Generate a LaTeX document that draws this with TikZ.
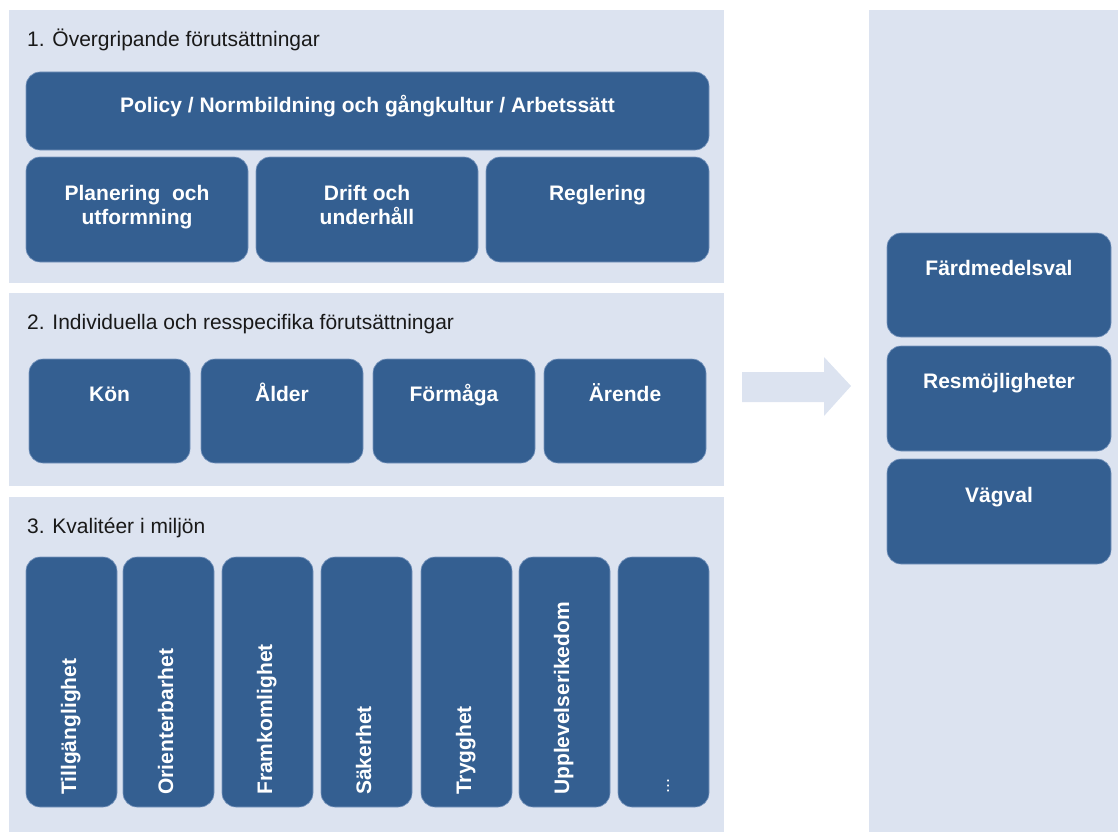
\documentclass[tikz,border=0pt]{standalone}
\usepackage{fontspec}
\setmainfont{Liberation Sans}
\definecolor{panelbg}{RGB}{220,227,240}
\definecolor{boxbg}{RGB}{52,95,145}
\definecolor{boxedge}{RGB}{120,150,190}
\begin{document}
\begin{tikzpicture}[x=1pt,y=-1pt,
  panel/.style={fill=panelbg,draw=none},
  box/.style={fill=boxbg,draw=boxedge,line width=0.6pt,rounded corners=14pt},
  boxtext/.style={text=white,font=\fontsize{21}{24}\selectfont\bfseries,align=center,inner sep=0pt,anchor=base},
  title/.style={text=black!90,font=\fontsize{21}{24}\selectfont,anchor=base west,inner sep=0pt},
  vtext/.style={text=white,font=\fontsize{21}{24}\selectfont\bfseries,rotate=90,anchor=base west,inner sep=0pt}]
\useasboundingbox (0,0) rectangle (1118,832);
% panels
\fill[panel] (9,10) rectangle (724,283);
\fill[panel] (9,293) rectangle (724,486);
\fill[panel] (9,497) rectangle (724,832);
\fill[panel] (869,10) rectangle (1118,832);
% arrow
\fill[panelbg] (742,372) -- (824,372) -- (824,357) -- (851,386) -- (824,416) -- (824,402) -- (742,402) -- cycle;
% panel titles
\node[title] (t1) at (27,47) {1. Övergripande förutsättningar};
\node[title] (t2) at (27,329) {2. Individuella och resspecifika förutsättningar};
\node[title] (t3) at (27,533) {3. Kvalitéer i miljön};
% panel 1
\draw[box] (26,72) rectangle (709,150);
\node[boxtext] (policy) at (367.5,113) {Policy / Normbildning och gångkultur / Arbetssätt};
\draw[box] (26,157) rectangle (248,262);
\node[boxtext] (plan) at (137,224) {Planering\ \ och\\utformning};
\draw[box] (256,157) rectangle (478,262);
\node[boxtext] (drift) at (367,224) {Drift och\\underhåll};
\draw[box] (486,157) rectangle (709,262);
\node[boxtext] (regl) at (597.5,200) {Reglering};
% panel 2
\draw[box] (29,359) rectangle (190,463);
\node[boxtext] (kon) at (109.5,401) {Kön};
\draw[box] (201,359) rectangle (363,463);
\node[boxtext] (alder) at (282,401) {Ålder};
\draw[box] (373,359) rectangle (535,463);
\node[boxtext] (formaga) at (454,401) {Förmåga};
\draw[box] (544,359) rectangle (706,463);
\node[boxtext] (arende) at (625,401) {Ärende};
% panel 3 bars
\foreach \x/\txt/\nm in {26/Tillgänglighet/b1,123/Orienterbarhet/b2,222/Framkomlighet/b3,321/Säkerhet/b4,421/Trygghet/b5,519/Upplevelserikedom/b6}{
  \draw[box] (\x,557) rectangle ({\x+91},807);
  \node[vtext] (\nm) at ({\x+50},795) {\txt};
}
\draw[box] (618,557) rectangle (709,807);
\node[vtext,font=\fontsize{18}{20}\selectfont] (b7) at (669,794) {...};
% right panel
\draw[box] (887,233) rectangle (1111,337);
\node[boxtext] (fard) at (999,275) {Färdmedelsval};
\draw[box] (887,346) rectangle (1111,451);
\node[boxtext] (resm) at (999,388) {Resmöjligheter};
\draw[box] (887,459) rectangle (1111,564);
\node[boxtext] (vagval) at (999,502) {Vägval};
\end{tikzpicture}
\end{document}
